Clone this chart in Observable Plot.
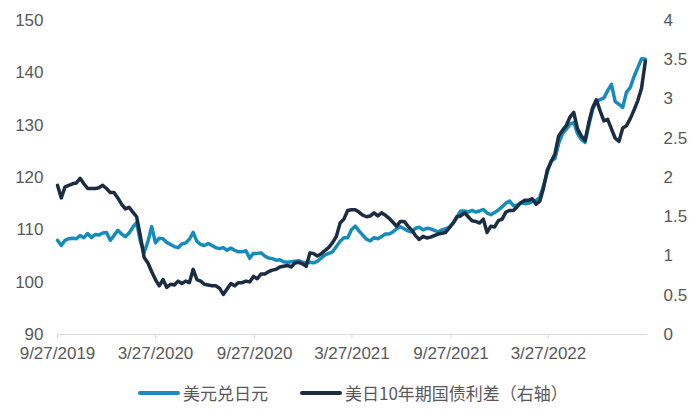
<!DOCTYPE html>
<html>
<head>
<meta charset="utf-8">
<script src="https://cdn.jsdelivr.net/npm/d3@7"></script>
<script src="https://cdn.jsdelivr.net/npm/@observablehq/plot@0.6"></script>
<style>
  body { margin: 0; background: #fff; font-family: "Liberation Sans", Arial, "Noto Sans CJK SC", sans-serif; }
  #chart { width: 700px; height: 420px; position: relative; }
  .legend { position: absolute; left: 138px; top: 380px; display: flex; align-items: center; font-family: "Noto Sans CJK SC", "Liberation Sans", sans-serif; font-size: 17px; color: #595959; }
  .sw { display: inline-block; width: 42px; height: 4px; border-radius: 2px; margin-right: 3px; }
  .item { display: flex; align-items: center; margin-right: 32px; white-space: nowrap; }
</style>
</head>
<body>
<div id="chart"></div>
<script>
// Weekly data starting 2019-09-27
const startDate = "2019-09-27";
const endDate = "2022-09-27";
const seriesNames = ["美元兑日元", "美日10年期国债利差（右轴）"];
const seriesColors = ["#168cba", "#1b2d42"];

// USD/JPY (left axis)
const usdjpy = [
  108.0,107.0,108.0,108.3,108.4,108.3,108.9,108.5,109.3,108.5,
  109.1,109.0,109.4,109.5,108.0,108.9,109.9,109.2,108.7,109.4,
  110.5,111.4,107.8,105.7,107.8,110.6,107.5,108.4,108.3,107.6,
  107.2,106.8,106.6,107.3,107.5,108.2,109.5,107.8,107.2,107.0,
  107.4,107.0,106.6,106.4,106.6,106.1,106.5,106.1,105.8,105.8,
  106.0,104.6,105.5,105.5,105.6,105.0,104.6,104.5,104.2,104.3,
  103.9,103.8,103.9,104.0,104.1,103.8,103.7,103.8,103.7,104.0,
  104.6,105.2,105.5,105.8,106.8,107.8,108.5,108.5,110.0,110.7,
  109.8,109.0,108.2,107.9,108.5,108.3,108.7,109.2,109.2,109.6,
  110.2,110.6,110.2,109.8,109.6,110.3,110.5,110.0,110.3,110.2,
  109.9,109.6,110.0,110.2,110.5,111.3,112.4,113.6,113.6,113.4,
  113.7,113.4,113.6,113.9,113.2,112.9,113.3,113.8,114.4,115.1,
  115.5,114.6,114.7,115.2,115.0,115.1,115.4,115.6,116.2,118.5,
  121.0,123.2,123.6,126.5,128.4,129.2,130.2,130.5,128.4,127.3,
  126.7,130.0,133.0,134.5,134.9,135.2,136.6,137.8,134.5,134.0,
  133.4,136.3,137.2,139.3,141.0,142.7,142.6
];

// US-Japan 10Y yield spread, % (right axis)
const spread = [
  1.90,1.74,1.88,1.90,1.92,1.93,1.99,1.92,1.86,1.86,
  1.86,1.87,1.90,1.86,1.81,1.81,1.74,1.66,1.60,1.62,
  1.56,1.50,1.25,0.98,0.91,0.80,0.70,0.62,0.70,0.60,
  0.64,0.63,0.68,0.65,0.68,0.66,0.83,0.70,0.68,0.64,
  0.63,0.62,0.62,0.59,0.51,0.58,0.65,0.62,0.66,0.66,
  0.68,0.67,0.74,0.71,0.77,0.77,0.80,0.82,0.83,0.86,
  0.87,0.88,0.86,0.91,0.92,0.90,0.87,1.04,1.03,1.00,
  1.03,1.07,1.11,1.17,1.25,1.42,1.47,1.58,1.59,1.59,
  1.56,1.52,1.50,1.51,1.55,1.51,1.55,1.52,1.48,1.43,
  1.38,1.44,1.44,1.38,1.33,1.26,1.21,1.25,1.23,1.24,
  1.26,1.28,1.29,1.30,1.36,1.42,1.50,1.51,1.55,1.50,
  1.45,1.44,1.42,1.47,1.30,1.38,1.37,1.45,1.47,1.56,
  1.58,1.58,1.63,1.68,1.71,1.71,1.73,1.66,1.70,1.87,
  2.10,2.20,2.30,2.53,2.60,2.66,2.77,2.83,2.62,2.53,
  2.47,2.70,2.89,2.99,2.85,2.72,2.74,2.62,2.50,2.46,
  2.63,2.66,2.75,2.86,2.98,3.14,3.48
];

const leftTicks = [90, 100, 110, 120, 130, 140, 150];
const rightTicks = [0, 0.5, 1, 1.5, 2, 2.5, 3, 3.5, 4];
const xTickLabels = ["2019-09-27", "2020-03-27", "2020-09-27", "2021-03-27", "2021-09-27", "2022-03-27"];

// right axis [0,4] mapped onto left axis [90,150]
const toLeft = r => 90 + r * 15;
const fromLeft = v => (v - 90) / 15;

const t0 = new Date(startDate + "T00:00:00Z");
const rows = usdjpy.map((v, i) => ({
  date: d3.utcDay.offset(t0, 7 * i),
  fx: v,
  spread: spread[i]
}));

const fmtDate = d => `${d.getUTCMonth() + 1}/${d.getUTCDate()}/${d.getUTCFullYear()}`;

const chart = Plot.plot({
  width: 700,
  height: 370,
  marginLeft: 57,
  marginRight: 53,
  marginTop: 20,
  marginBottom: 36,
  style: { fontSize: "17px", fontFamily: "'Liberation Sans', Arial, sans-serif", color: "#595959", background: "#fff" },
  x: { type: "utc", domain: [new Date(startDate + "T00:00:00Z"), new Date(endDate + "T00:00:00Z")] },
  y: { domain: [90, 150] },
  marks: [
    Plot.axisY(leftTicks, { anchor: "left", tickSize: 0, tickPadding: 14, label: null }),
    Plot.axisY(rightTicks.map(toLeft), { anchor: "right", tickSize: 0, tickPadding: 16, label: null, tickFormat: d => String(+fromLeft(d).toFixed(1)) }),
    Plot.ruleY([90], { stroke: "#d9d9d9", strokeWidth: 1.2 }),
    Plot.axisX(xTickLabels.map(s => new Date(s + "T00:00:00Z")), { tickSize: 4, tickPadding: 8, stroke: "#d9d9d9", tickFormat: fmtDate, label: null }),
    Plot.line(rows, { x: "date", y: "fx", stroke: seriesColors[0], strokeWidth: 3.5, strokeLinejoin: "round", strokeLinecap: "round" }),
    Plot.line(rows, { x: "date", y: d => toLeft(d.spread), stroke: seriesColors[1], strokeWidth: 3.5, strokeLinejoin: "round", strokeLinecap: "round" })
  ]
});

const container = document.getElementById("chart");
container.appendChild(chart);

const legend = document.createElement("div");
legend.className = "legend";
seriesNames.forEach((name, i) => {
  const item = document.createElement("div");
  item.className = "item";
  const sw = document.createElement("span");
  sw.className = "sw";
  sw.style.background = seriesColors[i];
  const label = document.createElement("span");
  label.textContent = name;
  item.appendChild(sw);
  item.appendChild(label);
  legend.appendChild(item);
});
container.appendChild(legend);
</script>
</body>
</html>
